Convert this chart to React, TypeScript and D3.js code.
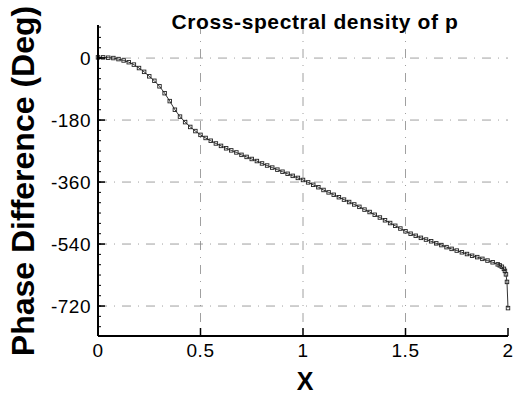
import React, {useRef, useEffect} from 'react'
import * as d3 from 'd3'

const xValues = [
  0, 0.025, 0.05, 0.075, 0.1, 0.125, 0.15, 0.175, 0.2, 0.225, 0.25, 0.275, 0.3, 0.325, 0.35, 0.375,
  0.4, 0.425, 0.45, 0.475, 0.5, 0.525, 0.55, 0.575, 0.6, 0.625, 0.65, 0.675, 0.7, 0.725, 0.75, 0.775,
  0.8, 0.825, 0.85, 0.875, 0.9, 0.925, 0.95, 0.975, 1.0, 1.025, 1.05, 1.075, 1.1, 1.125, 1.15, 1.175,
  1.2, 1.225, 1.25, 1.275, 1.3, 1.325, 1.35, 1.375, 1.4, 1.425, 1.45, 1.475, 1.5, 1.525, 1.55, 1.575,
  1.6, 1.625, 1.65, 1.675, 1.7, 1.725, 1.75, 1.775, 1.8, 1.825, 1.85, 1.875, 1.9, 1.925, 1.95, 1.96,
  1.97, 1.98, 1.985, 1.99, 1.995, 2.0
]
const phaseValues = [
  2, 2, 1, 0, -3, -7, -12, -19, -29, -40, -53, -66, -82, -102, -125, -150,
  -170, -186, -200, -212, -223, -232, -240, -248, -255, -262, -268, -274, -281, -287, -293, -299,
  -306, -312, -318, -324, -330, -336, -342, -348, -354, -361, -368, -375, -383, -390, -397, -404,
  -411, -418, -425, -432, -440, -447, -455, -463, -471, -479, -487, -495, -503, -510, -516, -522,
  -527, -532, -538, -543, -549, -554, -559, -564, -569, -574, -578, -583, -588, -593, -599, -602,
  -606, -612, -618, -628, -650, -726
]
const xTicks = [0, 0.5, 1, 1.5, 2]
const xTickLabels = ['0', '0.5', '1', '1.5', '2']
const yTicks = [0, -180, -360, -540, -720]
const yTickLabels = ['0', '-180', '-360', '-540', '-720']
const yMinorTicks = d3.range(-780, 91, 30)

export default function App() {
  const plotRef = useRef(null)

  useEffect(() => {
    const g = d3.select(plotRef.current)
    g.selectAll('*').remove()

    const x = d3.scaleLinear().domain([0, 2]).range([98, 508])
    const y = d3.scaleLinear().domain([-807, 96]).range([336, 25])
    const gridDash = '9,7,1,7'
    const font = 'Liberation Sans, Arial, sans-serif'

    // grid
    g.selectAll('.vgrid')
      .data(xTicks.slice(1, -1))
      .enter()
      .append('line')
      .attr('x1', d => x(d))
      .attr('x2', d => x(d))
      .attr('y1', y(96))
      .attr('y2', y(-807))
      .attr('stroke', '#888')
      .attr('stroke-width', 0.8)
      .attr('stroke-dasharray', gridDash)

    g.selectAll('.hgrid')
      .data(yTicks)
      .enter()
      .append('line')
      .attr('x1', x(0))
      .attr('x2', x(2))
      .attr('y1', d => y(d))
      .attr('y2', d => y(d))
      .attr('stroke', '#888')
      .attr('stroke-width', 0.8)
      .attr('stroke-dasharray', gridDash)

    const points = xValues.map((v, i) => ({x: v, p: phaseValues[i]}))

    const line = d3
      .line()
      .curve(d3.curveLinear)
      .x(d => x(d.x))
      .y(d => y(d.p))

    g.append('path')
      .datum(points)
      .attr('d', line)
      .attr('stroke', '#333')
      .attr('stroke-width', 1)
      .style('fill', 'none')

    g.selectAll('.marker')
      .data(points)
      .enter()
      .append('rect')
      .attr('x', d => x(d.x) - 1.75)
      .attr('y', d => y(d.p) - 1.75)
      .attr('width', 3.5)
      .attr('height', 3.5)
      .attr('stroke', '#222')
      .attr('stroke-width', 0.9)
      .attr('fill', 'none')

    // axes
    g.append('line')
      .attr('x1', x(0))
      .attr('x2', x(0))
      .attr('y1', y(96))
      .attr('y2', y(-807))
      .attr('stroke', '#000')
      .attr('stroke-width', 2)
    g.append('line')
      .attr('x1', x(0))
      .attr('x2', x(2))
      .attr('y1', y(-807))
      .attr('y2', y(-807))
      .attr('stroke', '#000')
      .attr('stroke-width', 2)

    g.selectAll('.yminor')
      .data(yMinorTicks)
      .enter()
      .append('line')
      .attr('x1', x(0))
      .attr('x2', x(0) + 3)
      .attr('y1', d => y(d))
      .attr('y2', d => y(d))
      .attr('stroke', '#000')
      .attr('stroke-width', 1)

    g.selectAll('.ymajor')
      .data(yTicks)
      .enter()
      .append('line')
      .attr('x1', x(0))
      .attr('x2', x(0) + 7)
      .attr('y1', d => y(d))
      .attr('y2', d => y(d))
      .attr('stroke', '#000')
      .attr('stroke-width', 1.5)

    g.selectAll('.xmajor')
      .data(xTicks.slice(1))
      .enter()
      .append('line')
      .attr('x1', d => x(d))
      .attr('x2', d => x(d))
      .attr('y1', y(-807))
      .attr('y2', y(-807) - 8)
      .attr('stroke', '#000')
      .attr('stroke-width', 1.5)

    g.selectAll('.ylabel')
      .data(yTicks)
      .enter()
      .append('text')
      .attr('x', x(0) - 7)
      .attr('y', d => y(d) + 7)
      .attr('text-anchor', 'end')
      .attr('font-family', font)
      .attr('font-size', 19)
      .attr('letter-spacing', 0.5)
      .text((d, i) => yTickLabels[i])

    g.selectAll('.xlabel')
      .data(xTicks)
      .enter()
      .append('text')
      .attr('x', d => x(d))
      .attr('y', y(-807) + 21)
      .attr('text-anchor', 'middle')
      .attr('font-family', font)
      .attr('font-size', 19)
      .attr('letter-spacing', 0.5)
      .text((d, i) => xTickLabels[i])

    g.append('text')
      .attr('x', 315)
      .attr('y', 29)
      .attr('text-anchor', 'middle')
      .attr('font-family', font)
      .attr('font-weight', 'bold')
      .attr('font-size', 21)
      .attr('letter-spacing', 0.6)
      .text('Cross-spectral density of p')

    g.append('text')
      .attr('x', 305)
      .attr('y', 390)
      .attr('text-anchor', 'middle')
      .attr('font-family', font)
      .attr('font-weight', 'bold')
      .attr('font-size', 25)
      .text('X')

    g.append('text')
      .attr('transform', 'translate(34,181) rotate(-90)')
      .attr('text-anchor', 'middle')
      .attr('font-family', font)
      .attr('font-weight', 'bold')
      .attr('font-size', 32)
      .text('Phase Difference (Deg)')
  }, [])

  return (
    <svg
      width="513"
      height="394"
      style={{position: 'absolute', left: 0, top: 0, background: '#fff'}}
    >
      <g ref={plotRef} />
    </svg>
  )
}
